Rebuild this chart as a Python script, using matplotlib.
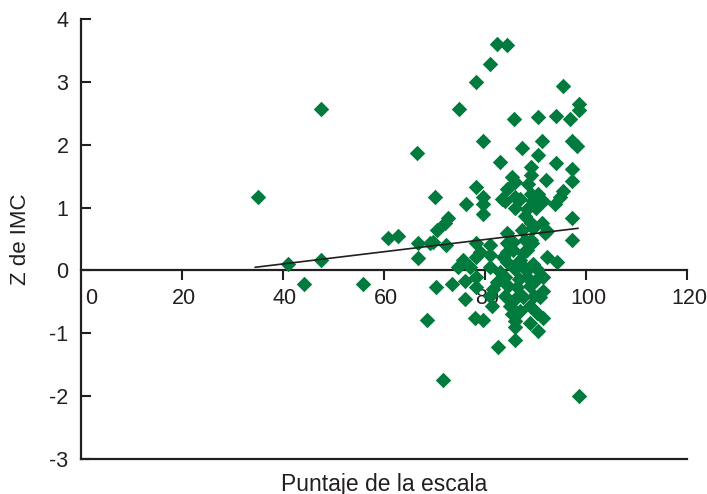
import matplotlib
matplotlib.use("Agg")
import matplotlib.pyplot as plt
from matplotlib.transforms import ScaledTranslation

plt.rcParams['font.family'] = ['Liberation Sans', 'DejaVu Sans']

# Data (Puntaje de la escala, Z de IMC)
puntaje = [35.0, 41.0, 44.2, 47.5, 47.5, 55.8, 60.8, 62.8, 66.5, 66.7,
           66.7, 68.5, 69.1, 70.1, 70.3, 69.7, 70.5, 71.7, 72.1, 72.7,
           72.3, 73.5, 74.9, 74.7, 75.6, 76.2, 76.0, 76.0, 77.0, 78.2,
           78.2, 78.2, 78.2, 78.2, 78.2, 78.0, 79.6, 79.6, 79.6, 79.6,
           79.6, 81.0, 81.0, 81.0, 81.0, 81.6, 81.0, 81.4, 82.4, 82.6,
           83.0, 83.4, 84.0, 84.4, 84.4, 84.4, 84.4, 84.4, 84.4, 84.0,
           84.0, 84.6, 85.0, 85.3, 85.7, 85.9, 85.9, 85.9, 85.5, 85.5,
           85.5, 85.9, 86.3, 86.7, 86.7, 85.9, 85.9, 85.9, 86.9, 86.9,
           87.3, 87.3, 87.9, 87.9, 88.3, 88.3, 87.5, 89.1, 89.1, 89.1,
           89.5, 89.1, 89.1, 89.3, 89.5, 88.9, 88.9, 88.9, 88.9, 90.1,
           90.3, 90.3, 90.3, 90.5, 90.5, 90.5, 90.5, 90.9, 91.3, 91.3,
           91.5, 91.5, 91.5, 91.5, 91.9, 92.1, 92.3, 92.3, 94.1, 94.1,
           93.9, 94.2, 94.9, 95.4, 95.4, 96.8, 97.2, 98.2, 97.2, 97.2,
           97.2, 97.2, 98.6, 98.6, 98.6, 83.0, 82.4, 86.9, 87.9, 88.3,
           89.7, 85.3, 83.6, 87.5, 79.0, 89.5, 86.9, 88.5]
z_imc = [1.17, 0.10, -0.22, 0.16, 2.57, -0.22, 0.51, 0.54, 1.87, 0.19,
         0.44, -0.79, 0.44, 1.17, -0.27, 0.46, 0.65, -1.75, 0.76, 0.83,
         0.40, -0.22, 2.57, 0.06, 0.17, 1.05, -0.17, -0.46, 0.06, 3.00,
         1.33, 0.44, 0.22, -0.11, -0.27, -0.75, 2.06, 1.17, 1.06, 0.89,
         -0.79, 3.29, 0.41, 0.24, 0.06, -0.30, -0.41, -0.57, 3.60, -1.22,
         1.73, 1.13, 1.10, 3.59, 1.30, 0.60, 0.44, 0.30, 0.13, -0.11,
         -0.41, -0.25, -0.57, 1.49, 2.41, 1.40, 1.17, 1.00, 0.46, 0.33,
         -0.49, 0.02, -0.27, 0.13, -0.14, -0.81, -0.90, -1.10, 0.17, -0.65,
         1.95, 0.65, 0.86, 0.49, 0.97, 0.33, -0.43, 1.65, 1.52, 1.22,
         1.10, 0.76, 0.48, 0.44, 0.10, 0.06, -0.25, -0.57, -0.83, 1.00,
         0.02, -0.14, -0.67, 2.44, 1.83, 1.22, -0.97, -0.43, 2.06, 0.76,
         1.10, -0.10, -0.33, -0.75, 0.60, 1.44, 0.62, 0.22, 2.46, 1.71,
         1.05, 0.13, 1.17, 2.94, 1.27, 2.41, 2.06, 1.98, 1.62, 1.43,
         0.83, 0.48, 2.65, 2.56, -2.00, -0.02, -0.19, -0.38, 0.02, -0.11,
         -0.40, -0.70, 0.21, 0.27, 0.30, 0.68, 1.13, 1.37]

# Trend line
trend_x = [34.5, 98.4]
trend_y = [0.05, 0.67]

x_ticks = [0, 20, 40, 60, 80, 100, 120]
y_ticks = [-3, -2, -1, 0, 1, 2, 3, 4]

green = '#007a3d'
dark = '#231f20'

fig = plt.figure(figsize=(7.07, 4.94), dpi=100)
ax = fig.add_axes([0.1146, 0.0709, 0.8571, 0.8906])

ax.scatter(puntaje, z_imc, marker='D', s=62, color=green, linewidths=0, zorder=3)
ax.plot(trend_x, trend_y, color=dark, lw=1.2, zorder=4)

ax.set_xlim(0, 120)
ax.set_ylim(-3, 4)

for s in ['top', 'right']:
    ax.spines[s].set_visible(False)
ax.spines['bottom'].set_position(('data', 0))
ax.spines['bottom'].set_linewidth(1.6)
ax.spines['left'].set_linewidth(1.6)
ax.spines['bottom'].set_color(dark)
ax.spines['left'].set_color(dark)
ax.plot([0, 120], [-3, -3], color=dark, lw=1.6, clip_on=False, solid_capstyle='projecting')

ax.set_xticks(x_ticks)
ax.set_xticklabels([str(v) for v in x_ticks])
ax.set_yticks(y_ticks)
ax.set_yticklabels([str(v) for v in y_ticks])

ax.tick_params(axis='x', direction='out', length=7.5, width=1.5, color=dark,
               labelsize=15.5, labelcolor=dark, pad=5)
ax.tick_params(axis='y', direction='in', length=7.5, width=1.5, color=dark,
               labelsize=15.5, labelcolor=dark, pad=9)

# hide tick mark at x=0 and shift its label to the right like the reference
xt = ax.xaxis.get_major_ticks()
xt[0].tick1line.set_visible(False)
xt[0].label1.set_transform(xt[0].label1.get_transform() +
                           ScaledTranslation(0.10, 0, fig.dpi_scale_trans))
for t in xt[1:]:
    t.label1.set_transform(t.label1.get_transform() +
                           ScaledTranslation(0.02, 0, fig.dpi_scale_trans))

ax.set_xlabel('Puntaje de la escala', fontsize=16.5, color=dark)
ax.xaxis.set_label_coords(0.5, -0.033)
ax.set_ylabel('Z de IMC', fontsize=16, color=dark)
ax.yaxis.set_label_coords(-0.082, 0.5)

fig.savefig('out.png', dpi=100)
